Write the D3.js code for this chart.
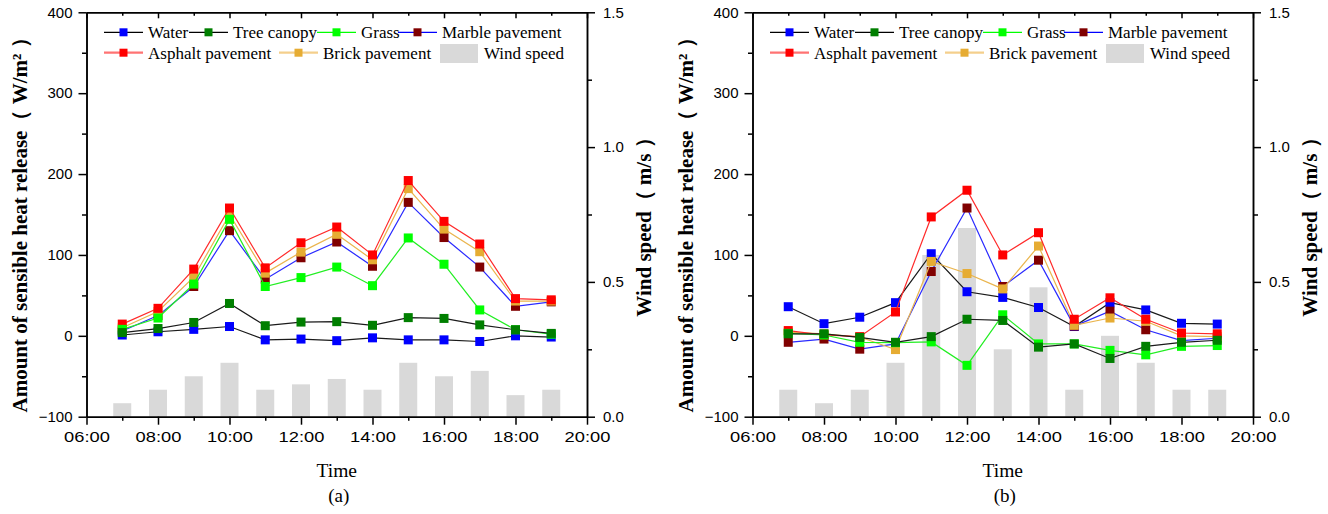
<!DOCTYPE html>
<html>
<head>
<meta charset="utf-8">
<script src="https://cdn.jsdelivr.net/npm/d3@7"></script>
<style>
  body { margin: 0; background: #fff; }
  svg { display: block; }
  .serif { font-family: "Liberation Serif", "Times New Roman", "DejaVu Serif", serif; }
  .sans { font-family: "Liberation Sans", Arial, sans-serif; }
</style>
</head>
<body>
<script>
// hours of the day (x values)
const hours = [7, 8, 9, 10, 11, 12, 13, 14, 15, 16, 17, 18, 19];
const xTicks = [6, 8, 10, 12, 14, 16, 18, 20];
const yTicks = [-100, 0, 100, 200, 300, 400];
const y2Ticks = [0, 0.5, 1.0, 1.5];

// panel (a)
const waterA   = [1, 5, 8, 11.5, -5, -4, -6, -2.5, -5, -5, -7, 0, -1.5];
const treeA    = [4, 9, 16.5, 40, 12.5, 17, 17.5, 13, 22.5, 21.5, 13.5, 7.5, 3];
const grassA   = [8, 22, 64, 144, 61, 72, 85, 62, 121, 88.5, 32, 7.5, 2];
const marbleA  = [6, 25, 61, 130, 70, 96.5, 116, 86, 165, 121.5, 85, 36.5, 42];
const asphaltA = [14.5, 34, 82.5, 158, 84, 115, 134.5, 100, 192, 141.5, 113.5, 46, 44.5];
const brickA   = [10, 30, 72.5, 150, 77.5, 103.5, 125.5, 94, 182, 132, 104, 43, 43];
const windA    = [0.05, 0.10, 0.15, 0.20, 0.10, 0.12, 0.14, 0.10, 0.20, 0.15, 0.17, 0.08, 0.10];

// panel (b)
const waterB   = [36, 15, 23, 41, 101.5, 54.5, 47.5, 35, 11.5, 41, 32, 15.5, 14.5];
const treeB    = [2.5, 2.5, -2, -8, -1, 20.5, 19, -14, -10, -28, -13, -8, -5.5];
const grassB   = [3, 1, -8, -8.5, -7.5, -36.5, 26, -10, -10, -18, -23.5, -13, -12];
const marbleB  = [-8, -4, -16.5, -10, 79.5, 158, 61, 93.5, 12, 30.5, 7.5, -6, -3];
const asphaltB = [6.5, 1, -1, 29.5, 147, 180, 100, 127.5, 20.5, 47, 20.5, 3.5, 2.5];
const brickB   = [4.5, 2.5, -1.5, -17, 92, 77, 58, 111, 13, 22, 18, 0, -1];
const windB    = [0.10, 0.05, 0.10, 0.20, 0.60, 0.70, 0.25, 0.48, 0.10, 0.30, 0.20, 0.10, 0.10];

const W = 1328, H = 514;
const svg = d3.select("body").append("svg").attr("width", W).attr("height", H);

const style = {
  "Water":            { marker: "#0000ff", line: "#1a1a1a", legLine: "#000000", legW: 1.3 },
  "Tree canopy":      { marker: "#007f00", line: "#1a1a1a", legLine: "#000000", legW: 1.3 },
  "Grass":            { marker: "#00ff00", line: "#22ee22", legLine: "#00ff00", legW: 1.3 },
  "Marble pavement":  { marker: "#800000", line: "#2a2aff", legLine: "#0000ff", legW: 1.3 },
  "Asphalt pavement": { marker: "#ff0000", line: "#ff2a2a", legLine: "#ff7373", legW: 2.2 },
  "Brick pavement":   { marker: "#e6ac33", line: "#eab54e", legLine: "#f4cf8c", legW: 2.2 }
};
// draw order bottom to top
const drawOrder = ["Water", "Marble pavement", "Brick pavement", "Asphalt pavement", "Grass", "Tree canopy"];

const panels = [
  { ox: 0, label: "(a)", wind: windA,
    data: { "Water": waterA, "Tree canopy": treeA, "Grass": grassA, "Marble pavement": marbleA, "Asphalt pavement": asphaltA, "Brick pavement": brickA } },
  { ox: 666, label: "(b)", wind: windB,
    data: { "Water": waterB, "Tree canopy": treeB, "Grass": grassB, "Marble pavement": marbleB, "Asphalt pavement": asphaltB, "Brick pavement": brickB } }
];

const L = 86.5, R = 587, T = 12.3, B = 416.7;
const pad2 = h => (h < 10 ? "0" : "") + h + ":00";

panels.forEach(p => {
  const g = svg.append("g").attr("transform", `translate(${p.ox},0)`);
  const x = d3.scaleLinear().domain([6, 20]).range([L, R]);
  const y = d3.scaleLinear().domain([-100, 400]).range([B, T]);
  const y2 = d3.scaleLinear().domain([0, 1.5]).range([B, T]);

  // wind bars
  const bw = 18;
  g.append("g").selectAll("rect")
    .data(hours.map((h, i) => ({ h: h, v: p.wind[i] })))
    .enter().append("rect")
    .attr("x", d => x(d.h) - bw / 2)
    .attr("y", d => y2(d.v))
    .attr("width", bw)
    .attr("height", d => y2(0) - y2(d.v))
    .attr("fill", "#d9d9d9");

  // lines + markers
  const line = d3.line().x(d => x(d.h)).y(d => y(d.v));
  drawOrder.forEach(name => {
    const pts = hours.map((h, i) => ({ h: h, v: p.data[name][i] }));
    const s = style[name];
    g.append("path").datum(pts)
      .attr("d", line)
      .attr("fill", "none")
      .attr("stroke", s.line)
      .attr("stroke-width", 1.2);
    g.append("g").selectAll("rect")
      .data(pts).enter().append("rect")
      .attr("x", d => x(d.h) - 4.5)
      .attr("y", d => y(d.v) - 4.5)
      .attr("width", 9).attr("height", 9)
      .attr("fill", s.marker);
  });

  // axes
  const axStyle = sel => {
    sel.attr("font-family", null).attr("font-size", null).attr("class", "sans");
    sel.selectAll("path, line").attr("stroke", "#000").attr("stroke-width", 1.5);
    sel.selectAll("text").style("font-size", "15px").attr("fill", "#000");
  };
  const xa = g.append("g").attr("transform", `translate(0,${B})`)
    .call(d3.axisBottom(x).tickValues(xTicks).tickFormat(pad2).tickSize(8).tickSizeOuter(0).tickPadding(7))
    .call(axStyle);
  g.append("g").attr("transform", `translate(0,${B})`)
    .call(d3.axisBottom(x).tickValues(d3.range(7, 20, 2)).tickFormat("").tickSize(4).tickSizeOuter(0))
    .call(axStyle);
  g.append("g").attr("transform", `translate(0,${T})`)
    .call(d3.axisTop(x).tickValues(d3.range(6, 21, 2)).tickFormat("").tickSize(-6).tickSizeOuter(0))
    .call(axStyle);
  g.append("g").attr("transform", `translate(0,${T})`)
    .call(d3.axisTop(x).tickValues(d3.range(7, 20, 2)).tickFormat("").tickSize(-3.5).tickSizeOuter(0))
    .call(axStyle);
  g.append("g").attr("transform", `translate(${L},0)`)
    .call(d3.axisLeft(y).tickValues(yTicks).tickSize(8).tickSizeOuter(0).tickPadding(6))
    .call(axStyle);
  g.append("g").attr("transform", `translate(${L},0)`)
    .call(d3.axisLeft(y).tickValues([-50, 50, 150, 250, 350]).tickFormat("").tickSize(4.5).tickSizeOuter(0))
    .call(axStyle);
  g.append("g").attr("transform", `translate(${R},0)`)
    .call(d3.axisRight(y2).tickValues(y2Ticks).tickFormat(d3.format(".1f")).tickSize(8).tickSizeOuter(0).tickPadding(8))
    .call(axStyle);
  g.append("g").attr("transform", `translate(${R},0)`)
    .call(d3.axisRight(y2).tickValues([0.25, 0.75, 1.25]).tickFormat("").tickSize(5).tickSizeOuter(0))
    .call(axStyle);

  // widen x tick labels a bit
  xa.selectAll(".tick text").each(function () {
    const w = this.getComputedTextLength();
    d3.select(this).attr("textLength", w * 1.22).attr("lengthAdjust", "spacingAndGlyphs");
  });

  // axis titles
  g.append("text").attr("class", "serif")
    .attr("transform", `translate(27,220) rotate(-90)`)
    .attr("text-anchor", "middle")
    .style("font-weight", "bold").style("font-size", "21px")
    .text("Amount of sensible heat release（ W/m² ）");
  g.append("text").attr("class", "serif")
    .attr("transform", `translate(651,222) rotate(-90)`)
    .attr("text-anchor", "middle")
    .style("font-weight", "bold").style("font-size", "21px")
    .text("Wind speed（ m/s ）");
  g.append("text").attr("class", "serif")
    .attr("x", (L + R) / 2).attr("y", 477)
    .attr("text-anchor", "middle")
    .style("font-size", "19.5px")
    .text("Time");
  g.append("text").attr("class", "serif")
    .attr("x", (L + R) / 2 + 2).attr("y", 502)
    .attr("text-anchor", "middle")
    .style("font-size", "19px")
    .text(p.label);

  // legend
  const legendItems = [
    { name: "Water", x: 104, y: 32.3 },
    { name: "Tree canopy", x: 189, y: 32.3 },
    { name: "Grass", x: 317, y: 32.3 },
    { name: "Marble pavement", x: 398, y: 32.3 },
    { name: "Asphalt pavement", x: 104, y: 52.7 },
    { name: "Brick pavement", x: 279, y: 52.7 }
  ];
  const lg = g.append("g");
  legendItems.forEach(it => {
    const s = style[it.name];
    lg.append("line").attr("x1", it.x).attr("x2", it.x + 39).attr("y1", it.y).attr("y2", it.y)
      .attr("stroke", s.legLine).attr("stroke-width", s.legW);
    lg.append("rect").attr("x", it.x + 19.5 - 4).attr("y", it.y - 4).attr("width", 8).attr("height", 8)
      .attr("fill", s.marker);
    lg.append("text").attr("class", "serif").attr("x", it.x + 44).attr("y", it.y + 6)
      .style("font-size", "17px").text(it.name);
  });
  lg.append("rect").attr("x", 440).attr("y", 44).attr("width", 38).attr("height", 19).attr("fill", "#d9d9d9");
  lg.append("text").attr("class", "serif").attr("x", 484).attr("y", 58.7)
    .style("font-size", "17px").text("Wind speed");
});
</script>
</body>
</html>
